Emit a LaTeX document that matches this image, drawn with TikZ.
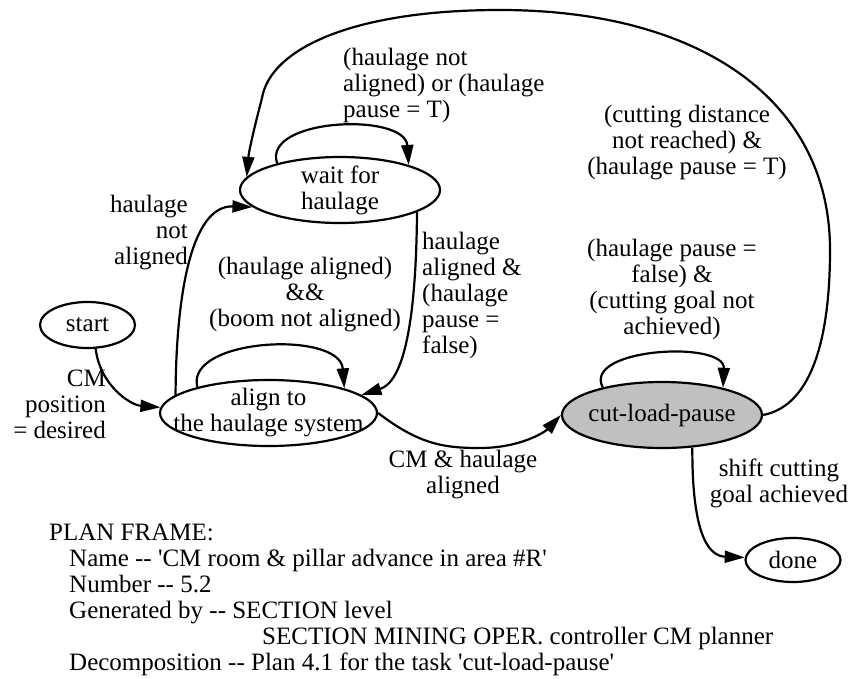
\documentclass[tikz,border=0pt]{standalone}
\usepackage{fontspec}
\setmainfont{Liberation Serif}[Ligatures=TeXOff]
\usetikzlibrary{shapes.geometric,arrows.meta}
\newcommand\lbfont{\fontsize{25}{26}\selectfont}
\definecolor{activegray}{RGB}{192,192,192}
\begin{document}
\begin{tikzpicture}[x=1pt,y=-1pt,
  state/.style={ellipse,draw,line width=2.2pt,inner sep=-40pt,align=center,font=\lbfont},
  lbl/.style={inner sep=0pt,font=\lbfont},
  tr/.style={line width=2.2pt,-{Triangle[length=20pt,width=12pt]}}]
\useasboundingbox (0,0) rectangle (854,679);

% states
\node[state,minimum width=200pt,minimum height=66pt] (wait) at (340,190) {wait for\\haulage};
\node[state,minimum width=95pt,minimum height=46pt] (start) at (87.5,325) {start};
\node[state,minimum width=217pt,minimum height=66pt] (align) at (268.5,413) {align to\\the haulage system};
\node[state,fill=activegray,minimum width=200pt,minimum height=66pt] (cut) at (662,415) {cut-load-pause};
\node[state,minimum width=95pt,minimum height=44pt] (done) at (793,560) {done};

% transition conditions
\node[lbl,align=left,anchor=west] (c1) at (343,85) {(haulage not\\aligned) or (haulage\\pause = T)};
\node[lbl,align=center] (c2) at (687,143) {(cutting distance\\not reached) \&\\(haulage pause = T)};
\node[lbl,align=right,anchor=east] (c3) at (188,233) {haulage\\not\\aligned};
\node[lbl,align=center] (c4) at (305,295) {(haulage aligned)\\\&\&\\(boom not aligned)};
\node[lbl,align=left,anchor=west] (c5) at (422,295) {haulage\\aligned \&\\(haulage\\pause =\\false)};
\node[lbl,align=center] (c6) at (672,289) {(haulage pause =\\false) \&\\(cutting goal not\\achieved)};
\node[lbl,align=right,anchor=east] (c7) at (106,404) {CM\\position\\= desired};
\node[lbl,align=center] (c8) at (463,475) {CM \& haulage\\aligned};
\node[lbl,align=center] (c9) at (779,483) {shift cutting\\goal achieved};

% transitions
\draw[tr] (start.-71) .. controls (100,385) and (130,405) .. (align.177);
\draw[tr] (align.169) .. controls (176,300) and (190,205) .. (wait.191);
\draw[tr] (wait.-16) .. controls (416,330) and (402,382) .. (align.11);
\draw[tr] (align.east) .. controls (420,445) and (445,448) .. (480,448)
          .. controls (520,448) and (545,432) .. (cut.180);
\draw[tr] (cut.-47) .. controls (692,525) and (705,556) .. (done.177);
\draw[tr] (cut.east) .. controls (815,405) and (830,330) .. (830,250)
          .. controls (830,100) and (700,10) .. (500,10)
          .. controls (350,10) and (270,50) .. (262,98)
          .. controls (255,125) and (249,150) .. (wait.172);
\draw[tr] (wait.157) .. controls (262,118) and (405,112) .. (wait.20);
\draw[tr] (align.160) .. controls (185,338) and (340,330) .. (align.18);
\draw[tr] (cut.155) .. controls (582,348) and (725,340) .. (cut.24);

% plan frame description
\node[lbl,align=left,anchor=north west] (plan) at (49,523.5) {PLAN FRAME:\\
\hspace*{20pt}Name -- 'CM room \& pillar advance in area \#R'\\
\hspace*{20pt}Number -- 5.2\\
\hspace*{20pt}Generated by -- SECTION level\\
\hspace*{213pt}SECTION MINING OPER. controller CM planner\\
\hspace*{20pt}Decomposition -- Plan 4.1 for the task 'cut-load-pause'};
\end{tikzpicture}
\end{document}
